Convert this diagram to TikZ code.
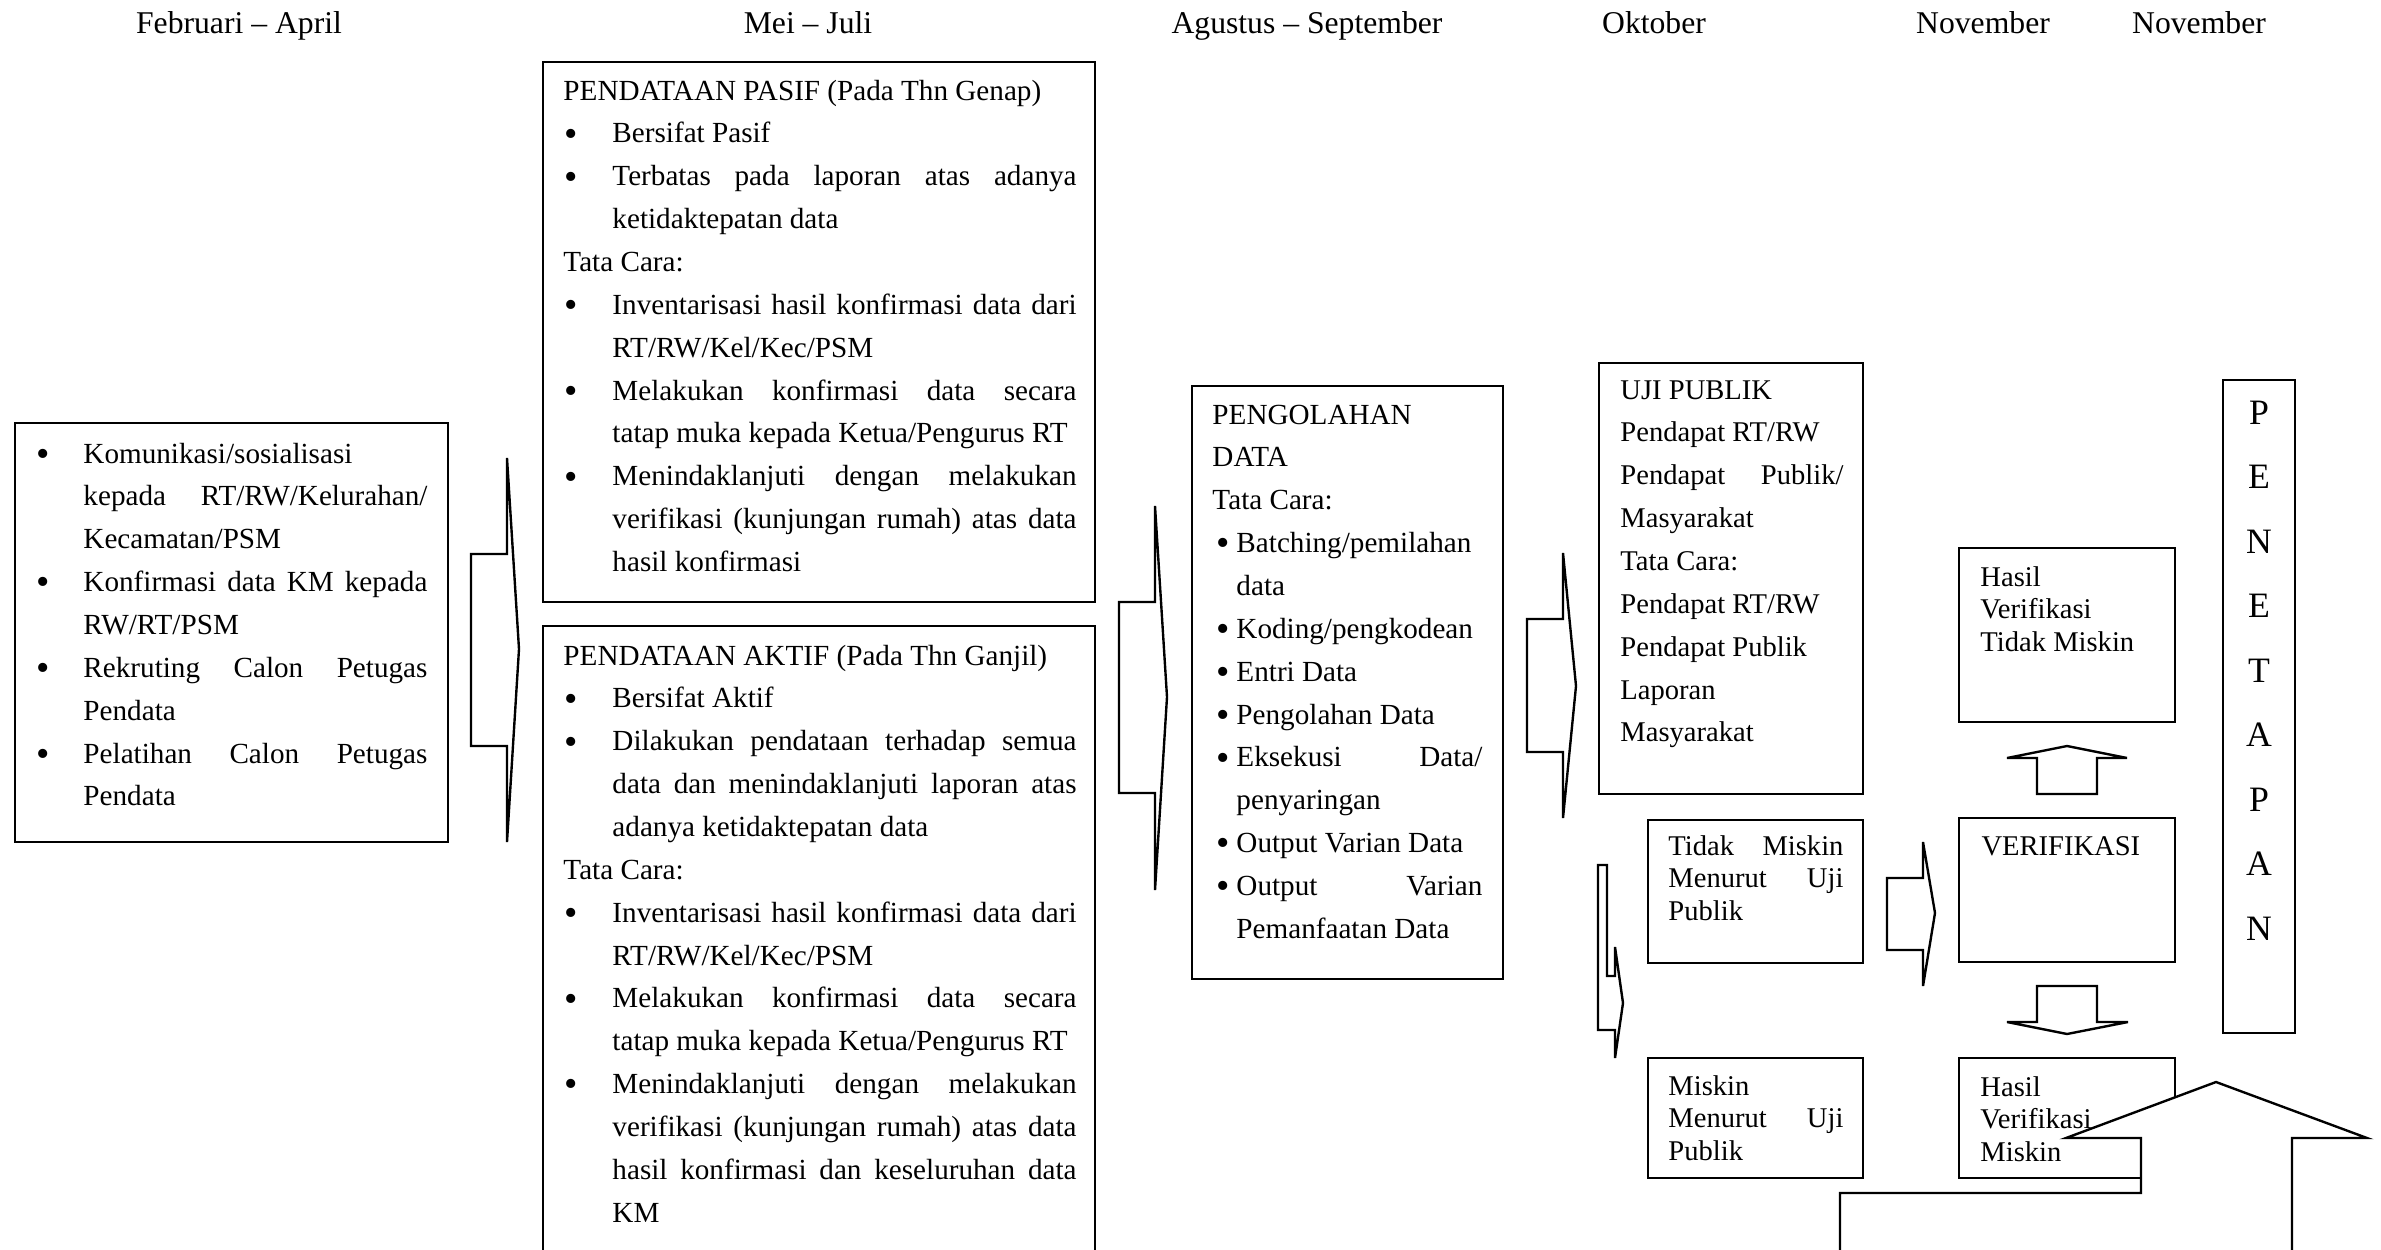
\documentclass[tikz,border=0pt]{standalone}
\usepackage{fontspec}
\setmainfont{Liberation Serif}
\usetikzlibrary{fit}
\hyphenpenalty=10000
\exhyphenpenalty=10000
\tolerance=10000
\hbadness=10000
\hfuzz=20pt
\newcommand{\bulglyph}{\raisebox{-1.4pt}{\fontsize{16}{16}\selectfont\textbullet}}
\newcommand{\bitem}[2]{\hangindent=#1\relax\hangafter=1\relax\makebox[#1][l]{\hspace*{#2}\bulglyph}\ignorespaces}
\newcommand{\bA}{\bitem{19.32pt}{-0.4pt}}
\newcommand{\bB}{\bitem{20.58pt}{0.4pt}}
\newcommand{\bC}{\bitem{10.08pt}{1.6pt}}
\tikzset{
  box/.style={draw, line width=1pt, inner sep=0pt},
  txt/.style={inner sep=0pt, anchor=base west, align=justify, font=\fontsize{12.25}{18}\selectfont},
  txtu/.style={inner sep=0pt, anchor=base west, align=justify, font=\fontsize{12}{18}\selectfont},
  txts/.style={inner sep=0pt, anchor=base west, align=justify, font=\fontsize{12}{13.8}\selectfont},
  hdr/.style={inner sep=0pt, anchor=base, font=\fontsize{13.3}{16}\selectfont},
  blockarrow/.style={draw, line width=1pt, fill=white, line join=miter}
}
\begin{document}
\begin{tikzpicture}[x=0.42pt, y=-0.42pt]
\useasboundingbox (0,0) rectangle (2381,1249);
\clip (0,0) rectangle (2381,1249);

% header
\node[hdr] (h1) at (239,33) {Februari – April};
\node[hdr] (h2) at (808,33) {Mei – Juli};
\node[hdr] (h3) at (1307,33) {Agustus – September};
\node[hdr] (h4) at (1654,33) {Oktober};
\node[hdr] (h5) at (1983,33) {November};
\node[hdr] (h6) at (2199,33) {November};

% boxes
\node[box, fit={(15,423) (448,842)}] (kiri) {};
\node[box, fit={(543,62) (1095,602)}] (pasif) {};
\node[box, fit={(543,626) (1095,1270)}] (aktif) {};
\node[box, fit={(1192,386) (1503,979)}] (olah) {};
\node[box, fit={(1599,363) (1863,794)}] (uji) {};
\node[box, fit={(1648,820) (1863,963)}] (tdkmiskin) {};
\node[box, fit={(1648,1058) (1863,1178)}] (miskin) {};
\node[box, fit={(1959,548) (2175,722)}] (hvtm) {};
\node[box, fit={(1959,818) (2175,962)}] (verif) {};
\node[box, fit={(1959,1058) (2175,1178)}] (hvm) {};
\node[box, fit={(2223,380) (2295,1033)}] (penetapan) {};

% texts
\node[txt, text width=163.8pt] (kiri-t) at (37,463) {\bA Komunikasi/sosialisasi\newline kepada RT/RW/Kelurahan/\linebreak Kecamatan/PSM\par
\bA Konfirmasi data KM kepada\linebreak RW/RT/PSM\par
\bA Rekruting Calon Petugas\linebreak Pendata\par
\bA Pelatihan Calon Petugas\linebreak Pendata\par};

\node[txt, text width=215.5pt] (pasif-t) at (563,100) {PENDATAAN PASIF (Pada Thn Genap)\par
\bB Bersifat Pasif\par
\bB Terbatas pada laporan atas adanya\linebreak ketidaktepatan data\par
Tata Cara:\par
\bB Inventarisasi hasil konfirmasi data dari\linebreak RT/RW/Kel/Kec/PSM\par
\bB Melakukan konfirmasi data secara\linebreak tatap muka kepada Ketua/Pengurus RT\par
\bB Menindaklanjuti dengan melakukan\linebreak verifikasi (kunjungan rumah) atas data\linebreak hasil konfirmasi\par};

\node[txt, text width=215.5pt] (aktif-t) at (563,665) {PENDATAAN AKTIF (Pada Thn Ganjil)\par
\bB Bersifat Aktif\par
\bB Dilakukan pendataan terhadap semua\linebreak data dan menindaklanjuti laporan atas\linebreak adanya ketidaktepatan data\par
Tata Cara:\par
\bB Inventarisasi hasil konfirmasi data dari\linebreak RT/RW/Kel/Kec/PSM\par
\bB Melakukan konfirmasi data secara\linebreak tatap muka kepada Ketua/Pengurus RT\par
\bB Menindaklanjuti dengan melakukan\linebreak verifikasi (kunjungan rumah) atas data\linebreak hasil konfirmasi dan keseluruhan data\linebreak KM\par};

\node[txt, text width=113.4pt] (olah-t) at (1212,424) {PENGOLAHAN\newline DATA\par
Tata Cara:\par
\bC Batching/pemilahan\newline data\par
\bC Koding/pengkodean\par
\bC Entri Data\par
\bC Pengolahan Data\par
\bC Eksekusi Data/\linebreak penyaringan\par
\bC Output Varian Data\par
\bC Output Varian\linebreak Pemanfaatan Data\par};

\node[txtu, text width=93.66pt] (uji-t) at (1620,399) {UJI PUBLIK\par
Pendapat RT/RW\par
Pendapat Publik/\linebreak Masyarakat\par
Tata Cara:\par
Pendapat RT/RW\par
Pendapat Publik\par
Laporan\newline Masyarakat\par};

\node[txts, text width=73.5pt] (tdkmiskin-t) at (1668,855) {Tidak Miskin\linebreak Menurut Uji\linebreak Publik\par};
\node[txts, text width=73.5pt] (miskin-t) at (1668,1095) {Miskin\newline Menurut Uji\linebreak Publik\par};
\node[txts, text width=80pt] (hvtm-t) at (1980,586) {Hasil\newline Verifikasi\newline Tidak Miskin\par};
\node[txtu] (verif-t) at (1981,855) {VERIFIKASI};
\node[txts, text width=80pt] (hvm-t) at (1980,1096) {Hasil\newline Verifikasi\newline Miskin\par};
\node[inner sep=0pt, anchor=base, text width=20pt, align=center, font=\fontsize{15}{27.1}\selectfont] (pen-t) at (2259,424) {P\\E\\N\\E\\T\\A\\P\\A\\N};

% block arrows
\draw[blockarrow] (507,458) -- (519,649) -- (507,842) -- (507,746) -- (471,746) -- (471,554) -- (507,554) -- cycle;
\draw[blockarrow] (1155,506) -- (1167,697) -- (1155,890) -- (1155,793) -- (1119,793) -- (1119,602) -- (1155,602) -- cycle;
\draw[blockarrow] (1563,553) -- (1576,686) -- (1563,818) -- (1563,752) -- (1527,752) -- (1527,619) -- (1563,619) -- cycle;
\draw[blockarrow] (1598,865) -- (1607,865) -- (1607,976) -- (1615,976) -- (1615,947) -- (1623,1003) -- (1615,1058) -- (1615,1030) -- (1598,1030) -- cycle;
\draw[blockarrow] (1923,842) -- (1935,913) -- (1923,986) -- (1923,950) -- (1887,950) -- (1887,878) -- (1923,878) -- cycle;
\draw[blockarrow] (2067,746) -- (2127,758) -- (2097,758) -- (2097,794) -- (2037,794) -- (2037,758) -- (2007,758) -- cycle;
\draw[blockarrow] (2037,986) -- (2097,986) -- (2097,1022) -- (2128,1022) -- (2067,1034) -- (2007,1022) -- (2037,1022) -- cycle;
\filldraw[blockarrow] (1840,1265) -- (1840,1193) -- (2141,1193) -- (2141,1138) -- (2066,1138) -- (2216,1082) -- (2367,1138) -- (2292,1138) -- (2292,1265);
\end{tikzpicture}
\end{document}
